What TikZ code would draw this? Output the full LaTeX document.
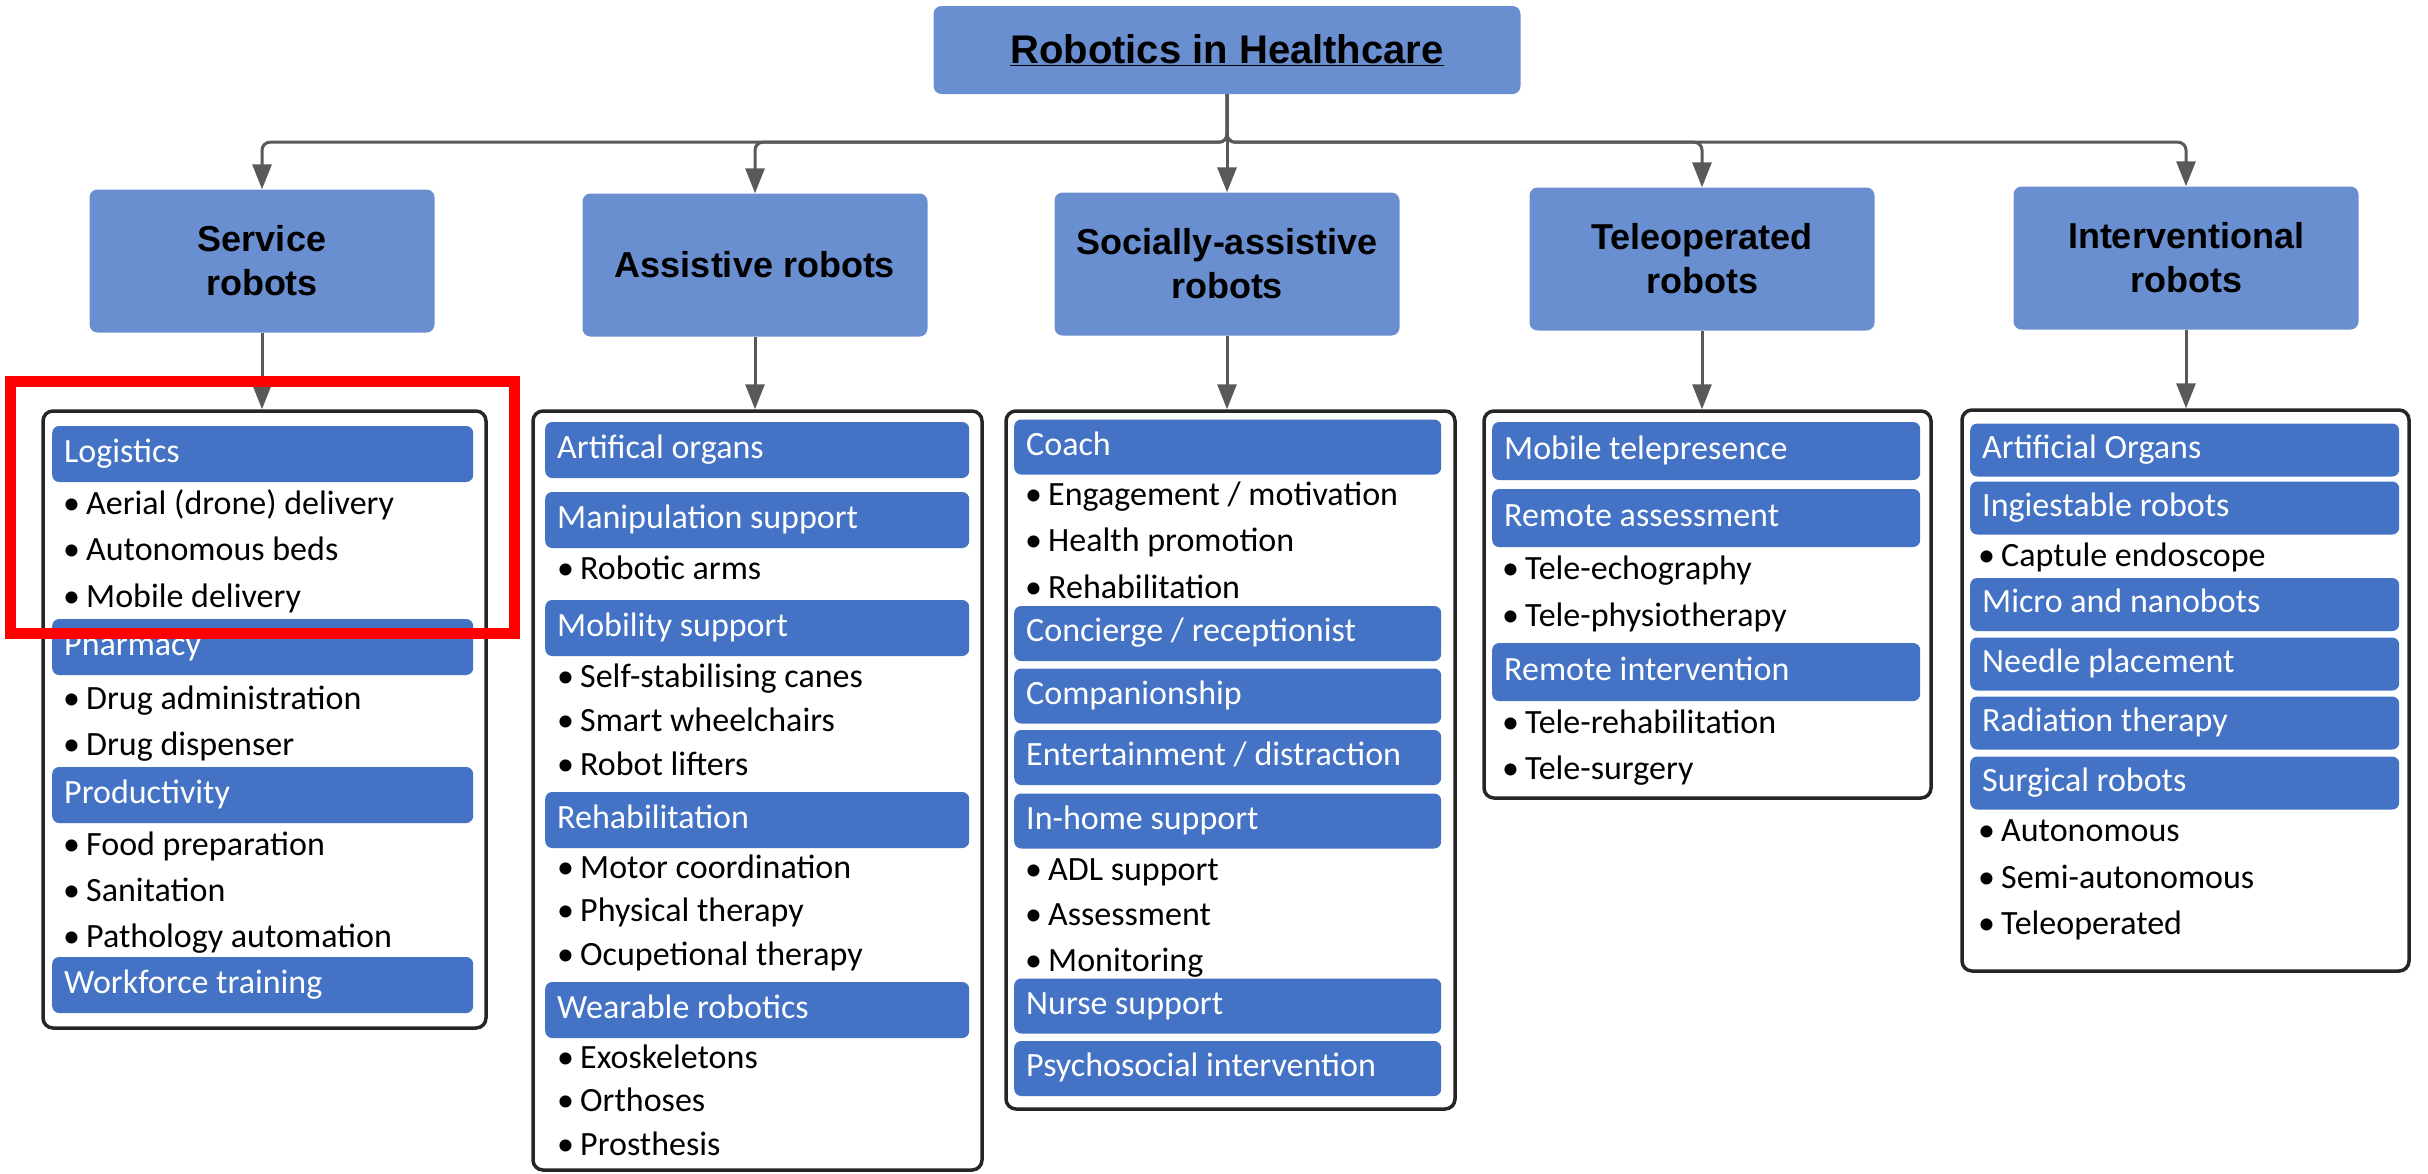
\documentclass[tikz,border=0pt]{standalone}
\usepackage{fontspec}
\setmainfont{Carlito}
\newfontfamily\headfont{Liberation Sans}
\usetikzlibrary{arrows.meta}

\definecolor{catblue}{HTML}{6A8FD0}
\definecolor{barblue}{HTML}{4472C4}
\definecolor{linkgray}{HTML}{595959}

\newcommand{\bul}{\makebox[23pt][l]{•}}

\tikzset{
  headbox/.style={fill=catblue, rounded corners=8pt, align=center, inner sep=0pt,
    font=\headfont\bfseries\fontsize{36}{44}\selectfont},
  cat/.style={headbox, minimum width=345pt, minimum height=143pt},
  listbox/.style={draw=black!85, line width=3.5pt, fill=white, rounded corners=10pt, inner sep=0pt},
  bar/.style={fill=barblue, rounded corners=7pt, text=white, anchor=west, align=flush left,
    minimum height=56pt, inner xsep=12pt, inner ysep=0pt, text width=#1,
    text height=24pt, text depth=8pt, font=\fontsize{34}{40}\selectfont},
  item/.style={anchor=west, inner sep=0pt, text height=24pt, text depth=8pt,
    font=\fontsize{34}{40}\selectfont},
  link/.style={draw=linkgray, line width=3pt, -{Triangle[length=25pt, width=19pt]}},
}

\begin{document}
\begin{tikzpicture}[x=1pt, y=-1pt]
    \useasboundingbox (0,0) rectangle (2428,1173);

    \node[headbox, minimum width=587pt, minimum height=88pt,
      font=\headfont\bfseries\fontsize{40}{48}\selectfont] (title) at (1227,50) {\underline{Robotics in Healthcare}};

    \node[cat] (svc)  at (262,261)  {Service\\robots};
    \node[cat] (asst) at (755,265)  {Assistive robots};
    \node[cat] (soc)  at (1227,264) {Socially-assistive\\robots};
    \node[cat] (tele) at (1702,259) {Teleoperated\\robots};
    \node[cat] (intv) at (2186,258) {Interventional\\robots};

    \foreach \c in {svc,asst,soc,tele,intv}
      \draw[link, rounded corners=8pt] (title.south) -- ++(0,48) -| (\c.north);

    \node[listbox, minimum width=443pt, minimum height=617pt] (svclist)  at (264.5,719.5) {};
    \node[listbox, minimum width=449pt, minimum height=759pt] (asstlist) at (757.5,790.5) {};
    \node[listbox, minimum width=449pt, minimum height=698pt] (soclist)  at (1230.5,760) {};
    \node[listbox, minimum width=447pt, minimum height=387pt] (telelist) at (1707.5,604.5) {};
    \node[listbox, minimum width=447pt, minimum height=561pt] (intvlist) at (2185.5,690.5) {};

    \foreach \c/\l in {svc/svclist,asst/asstlist,soc/soclist,tele/telelist,intv/intvlist}
      \draw[link] (\c.south) -- (\c.south |- \l.north);

%   service robots (items first, bars go over them)
    \foreach \t [count=\i] in {Aerial (drone) delivery, Autonomous beds, Mobile delivery}
      \node[item] (logi-\i) at (63,{506+46.5*(\i-1)}) {\bul\t};
    \foreach \t [count=\i] in {Drug administration, Drug dispenser}
      \node[item] (pharm-\i) at (63,{701+46*(\i-1)}) {\bul\t};
    \foreach \t [count=\i] in {Food preparation, Sanitation, Pathology automation}
      \node[item] (prod-\i) at (63,{847+46*(\i-1)}) {\bul\t};
    \node[bar=397pt] (logi)  at (52,454) {Logistics};
    \node[bar=397pt] (pharm) at (52,647) {Pharmacy};
    \node[bar=397pt] (prod)  at (52,795) {Productivity};
    \node[bar=397pt] (work)  at (52,985) {Workforce training};

%   assistive robots
    \node[item] (manip-1) at (557,571) {\bul Robotic arms};
    \foreach \t [count=\i] in {Self-stabilising canes, Smart wheelchairs, Robot lifters}
      \node[item] (mob-\i) at (557,{679+44*(\i-1)}) {\bul\t};
    \foreach \t [count=\i] in {Motor coordination, Physical therapy, Ocupetional therapy}
      \node[item] (rehab-\i) at (557,{870+43.5*(\i-1)}) {\bul\t};
    \foreach \t [count=\i] in {Exoskeletons, Orthoses, Prosthesis}
      \node[item] (wear-\i) at (557,{1060.5+43.3*(\i-1)}) {\bul\t};
    \node[bar=400pt] (organs) at (545,450)  {Artifical organs};
    \node[bar=400pt] (manip)  at (545,520)  {Manipulation support};
    \node[bar=400pt] (mob)    at (545,628)  {Mobility support};
    \node[bar=400pt] (rehab)  at (545,820)  {Rehabilitation};
    \node[bar=400pt] (wear)   at (545,1010) {Wearable robotics};

%   socially-assistive robots
    \foreach \t [count=\i] in {{Engagement / motivation}, Health promotion, Rehabilitation}
      \node[item] (coach-\i) at (1025,{497.5+46.3*(\i-1)}) {\bul\t};
    \foreach \t [count=\i] in {ADL support, Assessment, Monitoring}
      \node[item] (home-\i) at (1025,{872+45.5*(\i-1)}) {\bul\t};
    \node[bar=403pt, minimum height=55pt] (coach)   at (1014,447)    {Coach};
    \node[bar=403pt, minimum height=55pt] (conc)    at (1014,633.5)  {Concierge / receptionist};
    \node[bar=403pt, minimum height=55pt] (comp)    at (1014,696)    {Companionship};
    \node[bar=403pt, minimum height=55pt] (ent)     at (1014,757.5)  {Entertainment / distraction};
    \node[bar=403pt, minimum height=55pt] (home)    at (1014,821)    {In-home support};
    \node[bar=403pt, minimum height=55pt] (nurse)   at (1014,1006)   {Nurse support};
    \node[bar=403pt, minimum height=55pt] (psycho)  at (1014,1068.5) {Psychosocial intervention};

%   teleoperated robots
    \foreach \t [count=\i] in {Tele-echography, Tele-physiotherapy}
      \node[item] (rass-\i) at (1502,{571.5+46.5*(\i-1)}) {\bul\t};
    \foreach \t [count=\i] in {Tele-rehabilitation, Tele-surgery}
      \node[item] (rint-\i) at (1502,{725.5+45.5*(\i-1)}) {\bul\t};
    \node[bar=404pt, minimum height=58pt] (telep) at (1492,451) {Mobile telepresence};
    \node[bar=404pt, minimum height=58pt] (rass)  at (1492,518) {Remote assessment};
    \node[bar=404pt, minimum height=58pt] (rint)  at (1492,672) {Remote intervention};

%   interventional robots
    \node[item] (ingest-1) at (1978,558) {\bul Captule endoscope};
    \foreach \t [count=\i] in {Autonomous, Semi-autonomous, Teleoperated}
      \node[item] (surg-\i) at (1978,{833.5+46.7*(\i-1)}) {\bul\t};
    \node[bar=405pt, minimum height=53pt] (artorg) at (1970,450)   {Artificial Organs};
    \node[bar=405pt, minimum height=53pt] (ingest) at (1970,508)   {Ingiestable robots};
    \node[bar=405pt, minimum height=53pt] (micro)  at (1970,604.5) {Micro and nanobots};
    \node[bar=405pt, minimum height=53pt] (needle) at (1970,664)   {Needle placement};
    \node[bar=405pt, minimum height=53pt] (radio)  at (1970,723)   {Radiation therapy};
    \node[bar=405pt, minimum height=53pt] (surg)   at (1970,783)   {Surgical robots};

    \draw[red, line width=11pt] (10.5,381) rectangle (514.5,633);

\end{tikzpicture}
\end{document}
